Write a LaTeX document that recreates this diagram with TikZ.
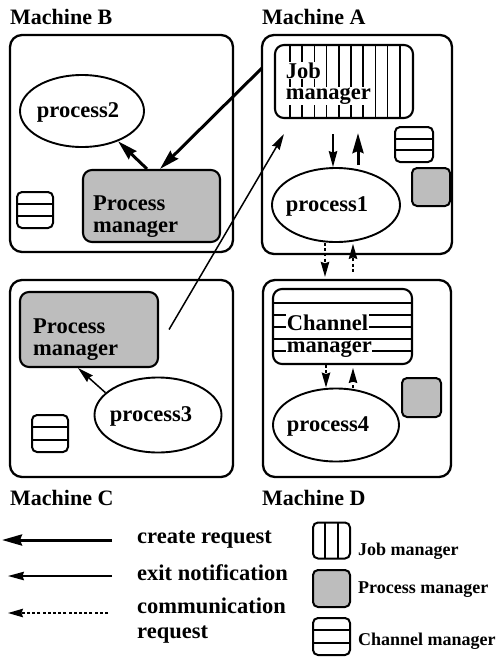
\documentclass[tikz,border=0pt]{standalone}
\usepackage{fontspec}
\setmainfont{Liberation Serif}
\usetikzlibrary{arrows.meta,shapes.geometric,calc}
\definecolor{pmgray}{gray}{0.74}
\begin{document}
\begin{tikzpicture}[x=1pt,y=-1pt,
  big/.style={font=\bfseries\fontsize{22.5}{22}\selectfont},
  machine/.style={draw,line width=2.3pt,rounded corners=12pt,inner sep=0pt},
  mgr/.style={draw,line width=2.1pt,rounded corners=9pt,inner sep=0pt},
  pmbox/.style={mgr,fill=pmgray},
  proc/.style={draw,ellipse,line width=1.9pt,inner sep=0pt},
  ptxt/.style={big,inner sep=0pt,anchor=base},
  icon/.style={draw,line width=2pt,rounded corners=5pt,minimum width=36pt,minimum height=36pt,inner sep=0pt},
  stripe/.style={line width=1.7pt},
  chanicon/.style={icon,path picture={
    \draw[stripe] ($(path picture bounding box.north west)!1/3!(path picture bounding box.south west)$) -- ($(path picture bounding box.north east)!1/3!(path picture bounding box.south east)$)
                  ($(path picture bounding box.north west)!2/3!(path picture bounding box.south west)$) -- ($(path picture bounding box.north east)!2/3!(path picture bounding box.south east)$);}},
  jobicon/.style={icon,path picture={
    \draw[stripe] ($(path picture bounding box.north west)!1/3!(path picture bounding box.north east)$) -- ($(path picture bounding box.south west)!1/3!(path picture bounding box.south east)$)
                  ($(path picture bounding box.north west)!2/3!(path picture bounding box.north east)$) -- ($(path picture bounding box.south west)!2/3!(path picture bounding box.south east)$);}},
  pmicon/.style={icon,fill=pmgray},
  wtext/.style={fill=white,inner sep=0.6pt,anchor=base west,big},
  ptext/.style={inner sep=0pt,anchor=base west,big},
  mlabel/.style={anchor=base west,inner sep=0pt,font=\bfseries\fontsize{22}{24}\selectfont},
  leglabel/.style={anchor=base west,inner sep=0pt,big},
  smlabel/.style={anchor=base west,inner sep=0pt,font=\bfseries\fontsize{18}{20}\selectfont},
  create/.style={line width=3pt,-{Stealth[length=20pt,width=11pt,inset=2pt]}},
  exit/.style={line width=1.5pt,-{Stealth[length=16pt,width=8.5pt,inset=1.5pt]}},
  comm/.style={line width=1.5pt,dash pattern=on 3pt off 2.2pt,-{Stealth[length=15pt,width=8.5pt,inset=1.5pt]}}
]
\useasboundingbox (0,0) rectangle (503,657);

% machines
\node[machine,minimum width=223pt,minimum height=217pt] (mb) at (121.5,143.5) {};
\node[machine,minimum width=190pt,minimum height=219pt] (ma) at (357,144.5) {};
\node[machine,minimum width=223pt,minimum height=197pt] (mc) at (121.5,378.5) {};
\node[machine,minimum width=188pt,minimum height=197pt] (md) at (357,378.5) {};

\node[mlabel] (lb) at (10,24) {Machine B};
\node[mlabel] (la) at (262,24) {Machine A};
\node[mlabel] (lc) at (10,505) {Machine C};
\node[mlabel] (ld) at (262,505) {Machine D};

% job manager
\begin{scope}
\clip[rounded corners=9pt] (275,45) rectangle (413,118);
\foreach \x in {290,302.2,...,400} \draw[stripe] (\x,40) -- (\x,125);
\end{scope}
\node[mgr,minimum width=138pt,minimum height=73pt] (jm) at (344,81.5) {};
\node[wtext] (jmt1) at (285,78) {Job};
\node[wtext] (jmt2) at (285,99) {manager};

% channel manager
\begin{scope}
\clip[rounded corners=9pt] (273,289) rectangle (412,364);
\foreach \y in {303,315,327,339,351} \draw[stripe] (268,\y) -- (417,\y);
\end{scope}
\node[mgr,minimum width=139pt,minimum height=75pt] (cm) at (342.5,326.5) {};
\node[wtext] (cmt1) at (286,330) {Channel};
\node[wtext] (cmt2) at (286,352) {manager};

% process managers
\node[pmbox,minimum width=137pt,minimum height=72pt] (pmb) at (151.5,206) {};
\node[ptext] (pmbt1) at (93,210) {Process};
\node[ptext] (pmbt2) at (93,232) {manager};
\node[pmbox,minimum width=138pt,minimum height=75pt] (pmc) at (89,329.5) {};
\node[ptext] (pmct1) at (33,333) {Process};
\node[ptext] (pmct2) at (33,355) {manager};

% processes
\node[proc,minimum width=124pt,minimum height=72pt] (p2) at (82,111) {};
\node[ptxt] (p2t) at (78,117) {process2};
\node[proc,minimum width=128pt,minimum height=74pt] (p1) at (336,205) {};
\node[ptxt] (p1t) at (327,211) {process1};
\node[proc,minimum width=127pt,minimum height=75pt] (p3) at (158,415) {};
\node[ptxt] (p3t) at (151,421) {process3};
\node[proc,minimum width=126pt,minimum height=73pt] (p4) at (336,425) {};
\node[ptxt] (p4t) at (328,431) {process4};

% small icons
\node[chanicon] (ib) at (35,210) {};
\node[chanicon,minimum width=38pt,minimum height=35pt] (ia1) at (414,144.5) {};
\node[pmicon,minimum width=38pt,minimum height=38pt] (ia2) at (431,187) {};
\node[chanicon,minimum height=37pt] (ic) at (50,433.5) {};
\node[pmicon,minimum width=39pt,minimum height=39pt] (id) at (421.5,397.5) {};

% connectors
\coordinate (c1) at (262,68);
\draw[create] (c1) -- ([xshift=8.5pt]pmb.north);
\draw[create] ([xshift=-4.5pt]pmb.north) -- (p2.-40);
\draw[exit,shorten <=15pt] ([xshift=-11pt]jm.south) -- ([xshift=-3pt]p1.north);
\draw[create,shorten <=2pt,shorten >=14pt] ([xshift=22pt]p1.north) -- ([xshift=14pt]jm.south);
\draw[comm,shorten >=2pt] ([xshift=-11pt]p1.south) -- ([xshift=-32pt]md.north);
\draw[comm,shorten <=7pt,shorten >=1pt] ([xshift=-4pt]md.north) -- ([xshift=17pt]p1.south);
\draw[comm] ([xshift=-16.5pt]cm.south) -- ([xshift=-10pt]p4.north);
\draw[comm,shorten >=3pt] ([xshift=17pt]p4.north) -- ([xshift=10.5pt]cm.south);
\draw[exit] (p3.157) -- ([xshift=-11pt]pmc.south);
\draw[exit] ([xshift=10pt]pmc.east) -- ([shift={(10pt,-15pt)}]jm.south west);

% legend
\coordinate (l1s) at (112,540); \coordinate (l1e) at (2,540);
\coordinate (l2s) at (112,576); \coordinate (l2e) at (8,576);
\coordinate (l3s) at (108,613); \coordinate (l3e) at (8,613);
\draw[create] (l1s) -- (l1e);
\draw[exit] (l2s) -- (l2e);
\draw[comm] (l3s) -- (l3e);
\node[leglabel] (lt1) at (137,543) {create request};
\node[leglabel] (lt2) at (137,580) {exit notification};
\node[leglabel] (lt3) at (137,613) {communication};
\node[leglabel] (lt4) at (137,638) {request};

\node[jobicon,minimum width=37pt] (lj) at (331.5,540.5) {};
\node[pmicon,minimum width=37pt,minimum height=37pt] (lp) at (331.5,588.5) {};
\node[chanicon,minimum width=37pt,minimum height=37pt] (lcm) at (331.5,636.5) {};
\node[smlabel] (ls1) at (358,555) {Job manager};
\node[smlabel] (ls2) at (358,593) {Process manager};
\node[smlabel] (ls3) at (358,645) {Channel manager};
\end{tikzpicture}
\end{document}
